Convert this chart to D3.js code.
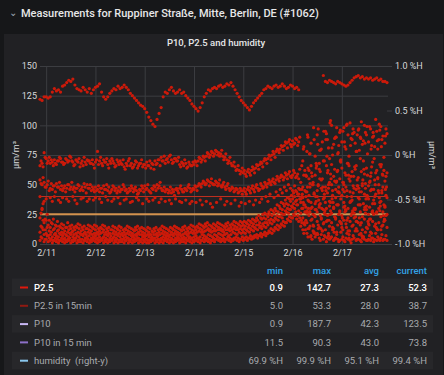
<!DOCTYPE html>
<html>
<head>
<meta charset="utf-8">
<script src="https://cdn.jsdelivr.net/npm/d3@7"></script>
<style>
body { margin: 0; background: #161719; font-family: Roboto, sans-serif; }
</style>
</head>
<body>
<script>
// Hourly readings, starting 2/10 21:00 (null = no reading)
var startTime = new Date(2019, 1, 10, 21);
var endTime = new Date(2019, 1, 17, 22);
var cloudStart = new Date(2019, 1, 16, 4);

var bandTop = [122,121,124,
  124,123,124,128,131,129,130,128,133,134,136,138,137,139,134,131,130,129,132,130,128,131,127,130,
  132,133,135,128,124,122,124,127,129,131,130,133,131,132,134,132,130,127,125,123,121,119,117,116,
  114,111,107,104,101,99,105,110,115,124,128,127,130,132,129,127,128,130,127,128,125,123,121,118,
  116,114,112,115,119,124,127,130,129,131,132,131,133,134,132,133,135,134,136,133,130,127,124,121,
  119,117,115,113,116,119,121,123,125,127,130,131,133,132,131,133,134,132,133,135,133,131,132,134,
  133,131,132,130,null,null,null,null,null,null,null,null,null,null,null,142,137,136,138,137,136,135,137,136,
  135,134,133,134,136,138,140,141,142,140,141,139,140,139,140,138,139,140,138,139,137,137,136];

var band70 = [66,68,77,
  72,70,68,69,71,67,70,72,69,68,71,70,73,69,67,70,72,68,66,69,71,70,68,67,
  69,78,70,68,71,69,67,70,72,68,66,69,70,67,65,68,70,66,64,67,69,66,68,65,
  67,69,66,64,67,70,68,71,73,70,68,72,74,71,69,72,70,67,69,66,68,65,67,66,
  67,69,70,72,71,73,74,76,75,77,76,78,77,76,74,73,71,70,68,66,65,63,62,61,
  60,59,61,60,62,63,64,66,67,68,70,71,72,74,75,76,78,79,80,82,83,85,86,84,
  87,85,88,86,null,70,null,78,62,85,null,74,92,68,80,null,95,88,72,100,84,90,76,94,
  86,98,80,92,102,88,94,78,96,90,84,100,92,86,97,90,82,95,88,99,91,85,93];

// half-hour readings of the same band
var band70Half = [70,65,73,
  68,73,71,66,68,70,73,69,67,72,69,74,70,66,71,69,65,70,73,67,70,68,71,64,
  71,67,73,66,69,72,64,68,70,65,71,67,68,71,63,66,72,68,65,70,64,68,71,67,
  64,66,70,68,63,67,71,66,70,74,71,69,75,68,72,70,73,65,68,71,64,69,66,69,
  70,66,73,69,74,70,77,73,78,74,79,75,74,79,71,76,68,73,66,69,62,66,59,64,
  62,57,63,58,65,60,67,63,69,65,72,68,75,71,78,73,80,77,83,79,86,81,88,82,
  84,89,83,90,66,82,58,90,76,null,88,64,97,79,86,70,93,81,104,75,89,98,83,71,
  95,82,101,74,89,97,85,92,79,103,87,94,76,99,83,91,105,80,96,88,73,97,84];

var band47 = [54,50,52,
  48,53,47,46,49,51,48,46,45,49,47,50,48,46,44,47,49,46,45,48,50,47,45,46,
  48,46,44,47,49,46,45,43,46,48,47,45,44,46,48,46,44,45,47,46,45,43,45,47,
  49,47,45,43,46,48,50,49,47,45,44,46,45,43,44,46,45,47,46,44,46,48,47,45,
  46,48,49,50,51,52,51,53,52,51,50,52,51,49,50,48,49,47,46,47,45,46,44,45,
  45,44,46,45,47,46,48,47,46,49,48,50,51,52,53,52,54,55,56,57,56,58,59,57,
  58,60,57,55,52,48,62,44,55,66,50,58,45,63,54,70,48,60,52,67,57,46,62,55,
  64,50,58,68,53,61,47,66,56,72,51,59,64,49,57,69,54,62,50,65,58,53,60];

var band47Half = [51,56,48,
  50,45,51,49,44,48,52,49,47,44,50,46,52,48,47,50,45,48,51,43,47,50,48,44,
  45,49,47,43,46,50,48,44,49,45,43,48,46,50,45,43,47,49,44,48,42,46,49,44,
  46,50,44,47,49,45,47,52,45,48,46,43,48,46,41,47,43,49,44,47,45,50,44,47,
  49,45,51,48,53,50,54,49,55,50,53,49,54,48,52,46,51,45,48,44,47,43,47,42,
  47,42,48,43,49,44,50,45,51,47,52,48,54,50,55,51,57,53,58,54,60,55,61,56,
  62,56,59,63,46,58,40,64,51,57,43,68,49,61,55,42,66,50,59,45,63,53,48,69,
  52,60,45,66,57,49,63,54,44,61,70,47,58,52,65,46,60,55,67,43,62,57,50];

var band37 = [40,30,36,
  38,null,39,36,40,null,37,35,39,null,38,36,null,40,37,34,null,38,39,null,36,38,null,37,
  39,null,38,35,null,40,37,null,36,38,null,39,34,null,37,38,null,35,36,null,39,37,null,34,
  null,38,36,null,37,39,null,35,38,null,36,null,37,34,null,38,null,36,35,null,37,null,34,36,
  null,35,null,37,33,null,36,null,34,31,null,35,null,38,null,33,36,null,34,null,37,null,32,35,
  null,34,null,36,null,33,37,null,35,38,null,40,36,42,null,39,44,41,46,43,48,45,50,47,
  45,49,44,47,38,30,45,26,41,35,52,29,40,33,47,38,25,43,36,50,31,39,44,28,
  41,35,48,30,44,37,26,46,39,33,49,42,29,38,45,34,40,27,43,36,48,31,39];

var lowHigh = [22,29,18,
  20,16,14,17,13,15,12,14,13,11,14,12,13,11,12,14,13,11,12,10,13,12,11,13,
  12,10,11,13,12,10,11,9,12,11,10,12,11,9,10,12,11,10,9,11,12,10,11,10,
  9,11,10,8,10,11,9,10,12,11,10,9,11,10,12,11,10,9,11,12,10,11,13,12,
  11,12,14,13,12,14,15,13,12,14,13,15,14,13,12,14,15,13,14,16,15,14,16,15,
  16,15,17,16,18,17,19,20,18,21,22,21,23,25,24,26,28,27,30,29,32,34,33,36,
  38,40,37,42,35,39,33,28,36,30,25,34,27,31,22,29,35,24,32,26,30,21,33,27,
  24,31,28,22,35,26,30,19,33,27,23,29,32,25,21,28,34,26,30,23,27,32,25];

var lowMid = [10,14,8,
  9,7,8,6,8,7,6,8,7,5,7,6,8,6,5,7,6,8,7,5,6,7,5,6,
  7,5,6,4,6,5,7,5,4,6,5,7,6,4,5,6,5,4,6,5,7,5,4,6,
  5,4,6,5,4,5,6,4,5,6,5,4,6,5,7,5,6,4,5,6,5,7,6,5,
  6,7,5,6,8,7,6,8,7,6,8,7,9,8,7,8,9,7,8,10,9,8,10,9,
  10,9,11,10,12,11,13,12,14,13,15,14,16,18,17,19,21,20,23,22,25,27,26,29,
  31,30,33,28,26,22,27,18,24,20,16,23,19,14,21,17,12,20,15,18,13,22,16,19,
  14,20,17,11,19,15,22,13,18,16,12,21,14,17,10,19,15,13,18,12,16,20,14];

var lowBase = [3,5,2,
  4,2,3,1,3,2,1,3,2,1,2,3,1,2,3,1,2,2,1,3,2,1,2,3,
  2,1,2,3,1,2,1,2,3,1,2,1,2,2,1,3,1,2,1,2,3,1,2,1,
  2,1,1,2,3,1,2,1,2,1,3,2,1,2,1,2,3,1,2,2,1,3,2,1,
  2,3,2,1,3,2,3,2,1,3,2,4,3,2,3,2,4,3,2,3,4,3,2,4,
  3,4,3,5,4,5,6,5,7,6,8,7,9,10,9,11,13,12,14,16,15,18,20,19,
  22,24,21,19,15,12,16,9,13,7,11,6,9,5,8,4,6,5,4,6,3,5,4,3,
  4,3,5,4,3,4,5,3,4,3,5,4,3,4,3,5,4,3,4,5,3,4,3];

// half-hour readings of the low band
var lowHalfA = [6,12,4,
  7,5,4,3,5,4,3,5,4,3,4,5,3,4,5,3,4,4,3,5,4,3,4,5,
  4,3,4,5,3,4,3,4,5,3,4,3,4,4,3,5,3,4,3,4,5,3,4,3,
  4,3,3,4,5,3,4,3,4,3,5,4,3,4,3,4,5,3,4,4,3,5,4,3,
  4,5,4,3,5,4,5,4,3,5,4,6,5,4,5,4,6,5,4,5,6,5,4,6,
  5,6,5,7,6,7,8,7,9,8,10,9,11,13,12,14,16,15,17,19,18,21,23,22,
  25,27,24,22,18,9,20,6,15,4,10,8,13,3,11,7,2,9,5,12,4,8,2,10,
  6,2,9,5,1,7,11,4,8,2,6,10,3,7,5,2,9,6,3,8,4,7,5];

var lowHalfB = [15,20,12,
  14,11,10,12,9,11,9,10,9,8,10,9,10,8,9,10,9,8,9,8,10,9,8,9,
  9,8,9,10,8,8,9,7,9,8,8,9,8,7,8,9,8,7,7,8,9,8,8,7,
  7,8,8,6,8,8,7,8,9,8,7,7,8,8,9,8,8,7,8,9,8,9,10,9,
  9,10,11,10,10,11,12,11,10,11,11,12,12,11,10,12,12,11,12,13,12,12,13,12,
  13,12,14,13,15,14,16,16,15,17,18,18,20,21,20,22,24,23,26,25,28,30,29,32,
  34,36,33,38,30,17,31,13,27,21,9,29,16,24,11,26,19,7,28,14,23,10,25,18,
  12,27,20,8,24,16,29,11,22,18,6,26,13,21,9,25,17,12,28,15,19,24,10];

var lowHalfC = [26,34,21,
  25,20,18,21,16,19,15,17,16,14,18,15,16,14,15,17,16,14,15,13,16,15,14,16,
  15,13,14,16,15,13,14,12,15,14,13,15,14,12,13,15,14,13,12,14,15,13,14,13,
  12,14,13,11,13,14,12,13,15,14,13,12,14,13,15,14,13,12,14,15,13,14,16,15,
  14,15,17,16,15,17,18,16,15,17,16,18,17,16,15,17,18,16,17,19,18,17,19,18,
  19,18,20,19,21,20,22,24,22,25,26,25,27,29,28,30,33,32,35,34,37,39,38,41,
  43,45,42,46,40,33,44,37,48,31,42,36,50,34,45,39,30,47,35,41,53,33,44,38,
  46,32,40,55,36,43,30,49,38,44,34,51,40,31,46,37,42,56,35,45,33,41,48];

// scattered readings after 2/16 04:00
var cloudA = [20,35,12,48,27,60,15,40,8,55,30,18,45,62,25,38,10,52,33,70,22,44,14,58,36,28,65,19,47,9,
  54,31,41,16,60,26,50,12,39,67,24,46,30];
var cloudB = [42,18,57,30,6,50,24,66,37,13,48,28,74,20,55,35,5,61,43,17,52,29,68,11,40,57,23,49,33,7,
  63,38,19,53,27,72,14,45,32,59,21,48,36];
var cloudC = [null,80,null,92,76,null,98,null,84,79,null,95,88,null,102,81,null,90,77,96,null,86,100,null,83,93,null,78,97,89,
  null,85,99,null,80,94,null,87,101,82,null,91,84];

var thresholds = [40, 25];
var leftTicks = [0, 25, 50, 75, 100, 125, 150];
var rightTicks = [-1, -0.5, 0, 0.5, 1];

var legendNames = ["P2.5", "P2.5 in 15min", "P10", "P10 in 15 min", "humidity  (right-y)"];
var legendMin = ["0.9", "5.0", "0.9", "11.5", "69.9 %H"];
var legendMax = ["142.7", "53.3", "187.7", "90.3", "99.9 %H"];
var legendAvg = ["27.3", "28.0", "42.3", "43.0", "95.1 %H"];
var legendCurrent = ["52.3", "38.7", "123.5", "73.8", "99.4 %H"];
var legendColors = ["#e0180c", "#8f1a12", "#c9b8f5", "#8d70c8", "#8ac7ee"];

var w = 444, h = 375;
var plotLeft = 40, plotRight = 387, plotTop = 66, plotBottom = 244;

var svg = d3.select("body").append("svg")
    .attr("width", w)
    .attr("height", h)
    .style("display", "block");

svg.append("rect").attr("width", w).attr("height", h).attr("fill", "#161719");

// header row
svg.append("text")
    .attr("x", 9).attr("y", 16)
    .attr("fill", "#9fa7b3").attr("font-size", 10)
    .text("\u2304");
svg.append("text")
    .attr("x", 21).attr("y", 17)
    .attr("fill", "#e6e7e8").attr("font-size", 11).attr("font-weight", 500)
    .text("Measurements for Ruppiner Straße, Mitte, Berlin, DE (#1062)");

// panel
svg.append("rect")
    .attr("x", 4).attr("y", 34).attr("width", 439).attr("height", 345)
    .attr("fill", "#212124");

svg.append("text")
    .attr("x", 216).attr("y", 46)
    .attr("text-anchor", "middle")
    .attr("fill", "#e6e7e8").attr("font-size", 9.5).attr("font-weight", 500)
    .text("P10, P2.5 and humidity");

var xScale = d3.scaleTime().domain([startTime, endTime]).range([plotLeft, plotRight]);
var yScale = d3.scaleLinear().domain([0, 150]).range([plotBottom, plotTop]);
var yRight = d3.scaleLinear().domain([-1, 1]).range([plotBottom, plotTop]);

// grid + axes
var xAxis = d3.axisBottom(xScale)
    .ticks(d3.timeDay.every(1))
    .tickFormat(d3.timeFormat("%-m/%-d"))
    .tickSize(-(plotBottom - plotTop))
    .tickPadding(6);
var gx = svg.append("g").attr("transform", "translate(0," + plotBottom + ")").call(xAxis);

var yAxis = d3.axisLeft(yScale).tickValues(leftTicks).tickSize(-(plotRight - plotLeft) - 1).tickPadding(3);
var gy = svg.append("g").attr("transform", "translate(" + plotLeft + ",0)").call(yAxis);

var yAxisR = d3.axisRight(yRight).tickValues(rightTicks)
    .tickFormat(function(d) { return (d === 0 ? "0" : d.toFixed(1)) + " %H"; })
    .tickSize(5).tickPadding(3);
var gr = svg.append("g").attr("transform", "translate(" + plotRight + ",0)").call(yAxisR);

[gx, gy, gr].forEach(function(g) {
    g.select(".domain").remove();
    g.selectAll("line").attr("stroke", "#3c3d41");
    g.selectAll("text").attr("fill", "#d8d9da").attr("font-size", 9).attr("font-family", "Roboto, sans-serif");
});

svg.append("text")
    .attr("transform", "translate(19," + ((plotTop + plotBottom) / 2) + ") rotate(-90)")
    .attr("text-anchor", "middle")
    .attr("fill", "#d8d9da").attr("font-size", 9)
    .text("µm/m³");
svg.append("text")
    .attr("transform", "translate(429," + ((plotTop + plotBottom) / 2) + ") rotate(90)")
    .attr("text-anchor", "middle")
    .attr("fill", "#d8d9da").attr("font-size", 9)
    .text("µm/m³");

// threshold lines
svg.append("line")
    .attr("x1", plotLeft).attr("x2", plotRight)
    .attr("y1", yScale(thresholds[0])).attr("y2", yScale(thresholds[0]))
    .attr("stroke", "#c4301f").attr("stroke-width", 1);
svg.append("line")
    .attr("x1", plotLeft).attr("x2", plotRight)
    .attr("y1", yScale(thresholds[1])).attr("y2", yScale(thresholds[1]))
    .attr("stroke", "#d3924e").attr("stroke-width", 2);

// points: each track is [values, first reading time, minutes offset]
var tracks = [
    [bandTop, startTime, 0], [band70, startTime, 0], [band70Half, startTime, 30],
    [band47, startTime, 0], [band47Half, startTime, 30], [band37, startTime, 0],
    [lowHigh, startTime, 0], [lowMid, startTime, 0], [lowBase, startTime, 0],
    [lowHalfA, startTime, 30], [lowHalfB, startTime, 30], [lowHalfC, startTime, 30],
    [cloudA, cloudStart, 15], [cloudB, cloudStart, 45], [cloudC, cloudStart, 15]
];
tracks.forEach(function(tr) {
    var pts = tr[0].map(function(v, i) {
        return { t: d3.timeMinute.offset(d3.timeHour.offset(tr[1], i), tr[2]), v: v };
    }).filter(function(d) { return d.v !== null && d.t <= endTime; });
    svg.append("g").selectAll("circle")
        .data(pts)
        .enter()
        .append("circle")
        .attr("cx", function(d) { return xScale(d.t); })
        .attr("cy", function(d) { return yScale(d.v); })
        .attr("r", 1.6)
        .attr("fill", "#cc1a0a");
});

// legend table
var colX = [283, 331, 379, 427];
var headers = ["min", "max", "avg", "current"];
svg.selectAll(".hdr")
    .data(headers)
    .enter()
    .append("text")
    .attr("x", function(d, i) { return colX[i]; })
    .attr("y", 274)
    .attr("text-anchor", "end")
    .attr("fill", "#33a2e5").attr("font-size", 9.5).attr("font-weight", 500)
    .text(function(d) { return d; });

var rowY = function(i) { return 278.5 + i * 18.3; };
legendNames.forEach(function(name, i) {
    if (i % 2 === 0) {
        svg.append("rect")
            .attr("x", 12).attr("y", rowY(i)).attr("width", 421).attr("height", 17.6)
            .attr("fill", "#27272a");
    }
    var cy = rowY(i) + 9;
    var col = i === 0 ? "#ffffff" : "#a9abaf";
    svg.append("rect")
        .attr("x", 20).attr("y", cy - 1).attr("width", 8).attr("height", 2)
        .attr("fill", legendColors[i]);
    svg.append("text")
        .attr("x", 34).attr("y", cy + 3.3)
        .attr("fill", col).attr("font-size", 9.5)
        .attr("font-weight", i === 0 ? 500 : 400)
        .style("white-space", "pre")
        .text(name);
    [legendMin[i], legendMax[i], legendAvg[i], legendCurrent[i]].forEach(function(v, j) {
        svg.append("text")
            .attr("x", colX[j]).attr("y", cy + 3.3)
            .attr("text-anchor", "end")
            .attr("fill", col).attr("font-size", 9.5)
            .attr("font-weight", i === 0 ? 500 : 400)
            .text(v);
    });
});
</script>
</body>
</html>
